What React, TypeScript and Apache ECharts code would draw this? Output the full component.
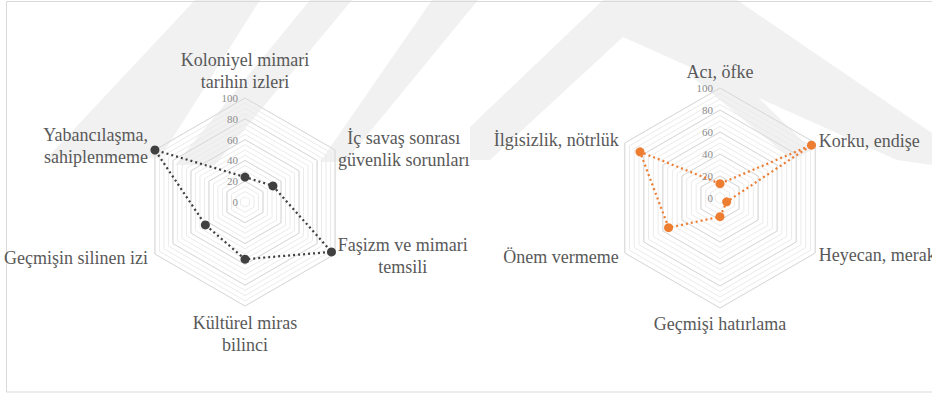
import React, { useEffect, useRef } from 'react';
import * as echarts from 'echarts';

// ---- data (clockwise from the top axis) ----
const leftCategories = [
  'Koloniyel mimari\ntarihin izleri',
  'İç savaş sonrası\ngüvenlik sorunları',
  'Faşizm ve mimari\ntemsili',
  'Kültürel miras\nbilinci',
  'Geçmişin silinen izi',
  'Yabancılaşma,\nsahiplenmeme',
];
const leftValues = [24, 31, 96, 55, 44, 100];

const rightCategories = [
  'Acı, öfke',
  'Korku, endişe',
  'Heyecan, merak',
  'Geçmişi hatırlama',
  'Önem vermeme',
  'İlgisizlik, nötrlük',
];
const rightValues = [13, 96, 7, 17, 54, 84];

const axisMin = 0;
const axisMax = 100;
const majorSplits = 5; // 0,20,...,100
const minorSplits = 20;

const FONT = 'Liberation Serif';

// ECharts lays radar indicators counter-clockwise; Excel goes clockwise.
function toRadarOrder<T>(arr: T[]): T[] {
  return [arr[0], ...arr.slice(1).reverse()];
}

function richName(name: string, key: string | null): string {
  if (!key) return name;
  return name
    .split('\n')
    .map((l) => `{${key}|${l}}`)
    .join('\n');
}

function buildRadars(
  categories: string[],
  center: [number, number],
  radius: number,
  gaps: number[],
  richKeys: (string | null)[]
) {
  const nameStyle = { color: '#595959', fontSize: 18, fontFamily: FONT, lineHeight: 22 };
  const minorInd = categories.map(() => ({ name: '', min: axisMin, max: axisMax }));
  const majorInd = categories.map((c, i) => {
    const ind: any = {
      name: richName(c, richKeys[i]),
      min: axisMin,
      max: axisMax,
      nameGap: gaps[i],
      nameTextStyle: { ...nameStyle },
    };
    if (i === 0) ind.axisLabel = { show: true, fontFamily: FONT };
    return ind;
  });
  const common = {
    center,
    radius,
    shape: 'polygon',
    startAngle: 90,
    splitArea: { show: false },
    axisLine: { show: false },
    axisTick: { show: false },
  };
  return [
    {
      ...common,
      splitNumber: minorSplits,
      indicator: toRadarOrder(minorInd),
      axisName: { show: false },
      axisLabel: { show: false },
      splitLine: { lineStyle: { color: '#ebebeb', width: 1 } },
      z: 1,
    },
    {
      ...common,
      splitNumber: majorSplits,
      indicator: toRadarOrder(majorInd),
      axisName: {
        show: true,
        ...nameStyle,
        rich: {
          r1: { width: 132, align: 'center', ...nameStyle },
          r2: { width: 130, align: 'center', ...nameStyle },
        },
      },
      axisLabel: {
        show: false,
        color: '#8c8c8c',
        fontSize: 11,
        fontFamily: FONT,
        margin: 7,
      },
      splitLine: { lineStyle: { color: '#d9d9d9', width: 1 } },
      z: 2,
    },
  ];
}

const watermark = [
  [[47, 158], [160, 158], [260, 0], [195, 0]],
  [[175, 165], [215, 165], [352, 0], [310, 0]],
  [[320, 162], [345, 162], [478, 0], [432, 0]],
  [[470, 127], [603, 0], [737, 0], [932, 133], [932, 165], [897, 160], [623, 37], [490, 160], [470, 160]],
  [[690, 75], [735, 75], [812, 150], [792, 160]],
];

export default function App() {
  const ref = useRef<HTMLDivElement>(null);
  useEffect(() => {
    if (!ref.current) return;
    const chart = echarts.init(ref.current, undefined, { renderer: 'svg' });
    const leftRadars = buildRadars(leftCategories, [245, 202], 104, [5, 3, 3, 6, 8, 8], [null, 'r1', 'r2', null, null, null]);
    const rightRadars = buildRadars(rightCategories, [720, 198], 110, [5, 4, 4, 5, 7, 7], [null, null, null, null, null, null]);
    const seriesStyle = (color: string) => ({
      type: 'radar',
      symbol: 'circle',
      symbolSize: 9,
      lineStyle: { type: [2, 3], width: 2.25, color },
      itemStyle: { color },
      z: 3,
    });
    chart.setOption({
      animation: false,
      backgroundColor: '#ffffff',
      radar: [...leftRadars, ...rightRadars],
      graphic: [
        ...watermark.map((pts) => ({
          type: 'polygon',
          z: -5,
          silent: true,
          shape: { points: pts },
          style: { fill: '#f1f1f1' },
        })),
        {
          type: 'rect',
          z: -4,
          silent: true,
          shape: { x: 6.5, y: 1.5, width: 1000, height: 390.5 },
          style: { fill: 'none', stroke: '#d9d9d9', lineWidth: 1 },
        },
      ],
      series: [
        { ...seriesStyle('#404040'), radarIndex: 1, data: [{ value: toRadarOrder(leftValues), name: 'left' }] },
        { ...seriesStyle('#ed7d31'), radarIndex: 3, data: [{ value: toRadarOrder(rightValues), name: 'right' }] },
      ],
    });
    return () => chart.dispose();
  }, []);
  return (
    <div
      ref={ref}
      style={{ position: 'absolute', left: 0, top: 0, width: 932, height: 394 }}
    />
  );
}
